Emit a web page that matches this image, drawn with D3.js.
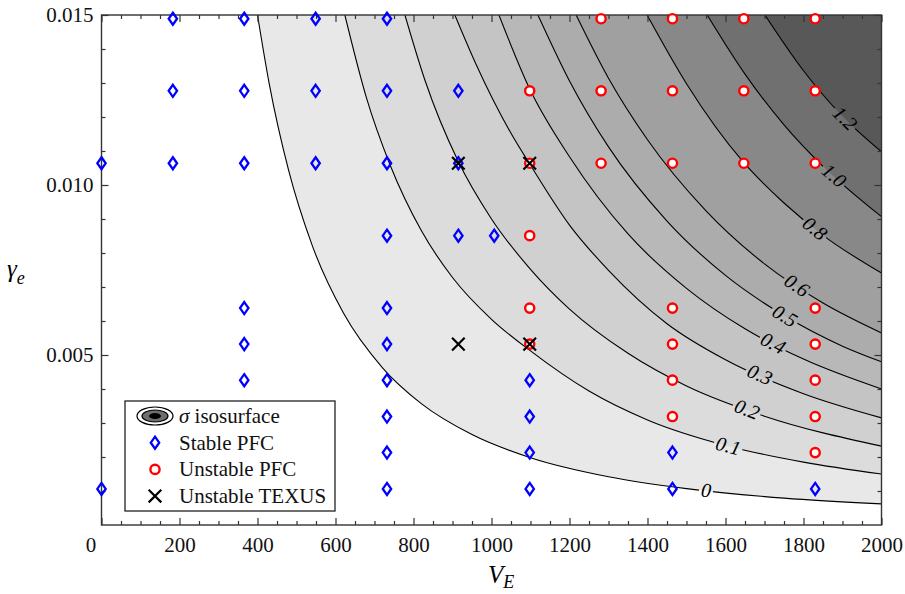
<!DOCTYPE html>
<html>
<head>
<meta charset="utf-8">
<script src="https://cdn.jsdelivr.net/npm/d3@7"></script>
<style>
  body { margin: 0; background: #ffffff; }
  svg { display: block; }
  svg text { font-family: "Liberation Serif", "Times New Roman", "DejaVu Serif", serif; }
</style>
</head>
<body>
<div id="chart"></div>
<script>
'use strict';

// -----------------------------------------------------------------------------------
// values
// -----------------------------------------------------------------------------------
var xMajorTicks = [0, 200, 400, 600, 800, 1000, 1200, 1400, 1600, 1800, 2000];
var yMajorTicks = [0.005, 0.010, 0.015];

// [V_E, gamma_e]
var stablePFC = [
  [0, 0.01064], [0, 0.00106],
  [183, 0.01489], [183, 0.01277], [183, 0.01064],
  [366, 0.01489], [366, 0.01277], [366, 0.01064], [366, 0.00638], [366, 0.00532], [366, 0.00426],
  [549, 0.01489], [549, 0.01277], [549, 0.01064],
  [732, 0.01489], [732, 0.01277], [732, 0.01064], [732, 0.00851], [732, 0.00638],
  [732, 0.00532], [732, 0.00426], [732, 0.00319], [732, 0.00213], [732, 0.00106],
  [915, 0.01277], [915, 0.01064], [915, 0.00851],
  [1007, 0.00851],
  [1098, 0.00426], [1098, 0.00319], [1098, 0.00213], [1098, 0.00106],
  [1464, 0.00213], [1464, 0.00106],
  [1830, 0.00106]
];

var unstablePFC = [
  [1098, 0.01277], [1098, 0.01064], [1098, 0.00851], [1098, 0.00638], [1098, 0.00532],
  [1281, 0.01489], [1281, 0.01277], [1281, 0.01064],
  [1464, 0.01489], [1464, 0.01277], [1464, 0.01064], [1464, 0.00638], [1464, 0.00532],
  [1464, 0.00426], [1464, 0.00319],
  [1647, 0.01489], [1647, 0.01277], [1647, 0.01064],
  [1830, 0.01489], [1830, 0.01277], [1830, 0.01064], [1830, 0.00638], [1830, 0.00532],
  [1830, 0.00426], [1830, 0.00319], [1830, 0.00213]
];

var unstableTEXUS = [
  [915, 0.01064], [1098, 0.01064], [915, 0.00532], [1098, 0.00532]
];

// sigma isosurface levels and their traced lines [V_E, gamma_e]
var contourLevels = [0, 0.1, 0.2, 0.3, 0.4, 0.5, 0.6, 0.8, 1.0, 1.2];
var contourNames = ['0', '0.1', '0.2', '0.3', '0.4', '0.5', '0.6', '0.8', '1.0', '1.2'];

var contour00 = [[400, 0.0150], [430, 0.01298], [480, 0.01042], [540, 0.00823], [620, 0.00624],
  [720, 0.00463], [820, 0.00357], [950, 0.00266], [1100, 0.00198], [1300, 0.00142],
  [1500, 0.00107], [1750, 0.00079], [2000, 0.00062]];
var contour01 = [[624, 0.0150], [680, 0.01254], [740, 0.01059], [820, 0.00866], [900, 0.00728],
  [1000, 0.00605], [1100, 0.00512], [1250, 0.00394], [1400, 0.00309], [1600, 0.00234],
  [1800, 0.00185], [2000, 0.0015]];
var contour02 = [[778, 0.0150], [830, 0.01306], [914, 0.01071], [1000, 0.0090], [1100, 0.00752],
  [1200, 0.00635], [1350, 0.00505], [1500, 0.00409], [1700, 0.0032], [2000, 0.00232]];
var contour03 = [[906, 0.0150], [960, 0.01356], [1050, 0.01152], [1100, 0.01058], [1200, 0.00882],
  [1300, 0.00749], [1450, 0.00592], [1600, 0.00486], [1800, 0.00386], [2000, 0.00315]];
var contour04 = [[1019, 0.0150], [1099, 0.0128], [1200, 0.01083], [1350, 0.00856], [1500, 0.00696],
  [1650, 0.00577], [1800, 0.00488], [2000, 0.0040]];
var contour05 = [[1119, 0.0150], [1200, 0.01306], [1300, 0.01112], [1450, 0.00894], [1600, 0.00734],
  [1750, 0.00616], [1900, 0.00526], [2000, 0.0048]];
var contour06 = [[1217, 0.0150], [1300, 0.01314], [1400, 0.01133], [1550, 0.00924], [1700, 0.00768],
  [1850, 0.00653], [2000, 0.00565]];
var contour08 = [[1399, 0.0150], [1500, 0.01298], [1646, 0.01067], [1750, 0.00947], [1850, 0.00852],
  [2000, 0.00741]];
var contour10 = [[1553, 0.0150], [1650, 0.01326], [1750, 0.01177], [1850, 0.01055], [2000, 0.00907]];
var contour12 = [[1701, 0.0150], [1800, 0.01336], [1900, 0.01202], [2000, 0.01098]];

var contourLines = [contour00, contour01, contour02, contour03, contour04,
  contour05, contour06, contour08, contour10, contour12];

// V_E where each in-line label sits
var labelAtV = [1550, 1607, 1655, 1688, 1722, 1752, 1783, 1829, 1878, 1906];

// -----------------------------------------------------------------------------------
// chart
// -----------------------------------------------------------------------------------
var W = 905, H = 594;
var pLeft = 101.5, pRight = 881.5, pTop = 15, pBottom = 525;
var serif = '"Liberation Serif", "Times New Roman", "DejaVu Serif", serif';

var x = d3.scaleLinear().domain([0, 2000]).range([pLeft, pRight]);
var y = d3.scaleLinear().domain([0, 0.015]).range([pBottom, pTop]);
var gray = d3.scaleLinear().domain([0, 1.2]).range(['#e8e8e8', '#585858']);

var svg = d3.select('#chart').append('svg')
  .attr('width', W)
  .attr('height', H);

svg.append('rect')
  .attr('width', W)
  .attr('height', H)
  .style('fill', '#ffffff');

var defs = svg.append('defs');
defs.append('clipPath').attr('id', 'plotclip')
  .append('rect')
  .attr('x', pLeft)
  .attr('y', pTop)
  .attr('width', pRight - pLeft)
  .attr('height', pBottom - pTop);

var line = d3.line()
  .x(function(d) { return x(d[0]); })
  .y(function(d) { return y(d[1]); })
  .curve(d3.curveMonotoneX);

// filled bands: each level paints everything above/right of its line
var bands = svg.append('g').attr('clip-path', 'url(#plotclip)');
contourLines.forEach(function(pts, i) {
  bands.append('path')
    .attr('d', line(pts) + 'L' + x(2000) + ',' + y(0.015) + 'Z')
    .style('fill', gray(contourLevels[i]))
    .style('stroke', 'none');
});

// position along a traced line
function along(pts, v) {
  for (var k = 0; k < pts.length - 1; k++) {
    if (v >= pts[k][0] && v <= pts[k + 1][0]) {
      var t = (v - pts[k][0]) / (pts[k + 1][0] - pts[k][0]);
      return pts[k][1] + t * (pts[k + 1][1] - pts[k][1]);
    }
  }
  return pts[pts.length - 1][1];
}

// contour labels
var labelG = svg.append('g')
  .style('font-family', serif)
  .style('font-size', '20px')
  .style('font-style', 'italic');

var mask = defs.append('mask').attr('id', 'lblmask')
  .attr('maskUnits', 'userSpaceOnUse')
  .attr('x', 0).attr('y', 0).attr('width', W).attr('height', H);
mask.append('rect').attr('width', W).attr('height', H).style('fill', '#ffffff');

contourLines.forEach(function(pts, i) {
  var v = labelAtV[i];
  var px = x(v), py = y(along(pts, v));
  var dx = x(v + 25) - x(v - 25);
  var dy = y(along(pts, v + 25)) - y(along(pts, v - 25));
  var ang = Math.atan2(dy, dx) * 180 / Math.PI;

  var t = labelG.append('text')
    .attr('transform', 'translate(' + px + ',' + py + ') rotate(' + ang + ')')
    .attr('text-anchor', 'middle')
    .attr('dy', '0.33em')
    .text(contourNames[i]);
  var tw = t.node().getComputedTextLength() + 4;

  mask.append('rect')
    .attr('x', -tw / 2)
    .attr('y', -7)
    .attr('width', tw)
    .attr('height', 14)
    .attr('transform', 'translate(' + px + ',' + py + ') rotate(' + ang + ')')
    .style('fill', '#000000');
});

// contour lines, broken where the labels sit
var linesG = svg.append('g').attr('clip-path', 'url(#plotclip)')
  .append('g').attr('mask', 'url(#lblmask)');
contourLines.forEach(function(pts) {
  linesG.append('path')
    .attr('d', line(pts))
    .style('fill', 'none')
    .style('stroke', '#000000')
    .style('stroke-width', '1.1px');
});

// -----------------------------------------------------------------------------------
// axes (ticks point inward on all four sides)
// -----------------------------------------------------------------------------------
var xMinor = d3.range(0, 2001, 50).filter(function(v) { return v % 200 !== 0; });
var yMinor = d3.range(1, 15).map(function(k) { return k / 1000; })
  .filter(function(v, k) { return (k + 1) % 5 !== 0; });

function styleAxis(g) {
  g.attr('font-family', null);
  g.select('.domain').remove();
  g.selectAll('line').style('stroke', '#333333').style('stroke-width', '1.2px');
  g.selectAll('text')
    .style('font-family', serif)
    .style('font-size', '21px')
    .style('fill', '#111111');
}

var xAxisB = svg.append('g').attr('transform', 'translate(0,' + pBottom + ')')
  .call(d3.axisBottom(x).tickValues(xMajorTicks).tickSize(-7).tickPadding(12)
    .tickFormat(d3.format('d')));
styleAxis(xAxisB);
xAxisB.selectAll('.tick text').filter(function(d) { return d === 0; }).attr('dx', '-11');

svg.append('g').attr('transform', 'translate(0,' + pBottom + ')')
  .call(d3.axisBottom(x).tickValues(xMinor).tickSize(-4).tickFormat(''))
  .call(styleAxis);
svg.append('g').attr('transform', 'translate(0,' + pTop + ')')
  .call(d3.axisTop(x).tickValues(xMajorTicks).tickSize(-7).tickFormat(''))
  .call(styleAxis);
svg.append('g').attr('transform', 'translate(0,' + pTop + ')')
  .call(d3.axisTop(x).tickValues(xMinor).tickSize(-4).tickFormat(''))
  .call(styleAxis);

svg.append('g').attr('transform', 'translate(' + pLeft + ',0)')
  .call(d3.axisLeft(y).tickValues(yMajorTicks).tickSize(-7).tickPadding(8)
    .tickFormat(d3.format('.3f')))
  .call(styleAxis);
svg.append('g').attr('transform', 'translate(' + pLeft + ',0)')
  .call(d3.axisLeft(y).tickValues(yMinor).tickSize(-4).tickFormat(''))
  .call(styleAxis);
svg.append('g').attr('transform', 'translate(' + pRight + ',0)')
  .call(d3.axisRight(y).tickValues(yMajorTicks).tickSize(-7).tickFormat(''))
  .call(styleAxis);
svg.append('g').attr('transform', 'translate(' + pRight + ',0)')
  .call(d3.axisRight(y).tickValues(yMinor).tickSize(-4).tickFormat(''))
  .call(styleAxis);

// frame
svg.append('rect')
  .attr('x', pLeft)
  .attr('y', pTop)
  .attr('width', pRight - pLeft)
  .attr('height', pBottom - pTop)
  .style('fill', 'none')
  .style('stroke', '#333333')
  .style('stroke-width', '1.4px');

// axis titles
var yTitle = svg.append('text')
  .attr('x', 7)
  .attr('y', 277)
  .style('font-family', serif)
  .style('font-size', '25px')
  .style('font-style', 'italic');
yTitle.append('tspan').text('\u03b3');
yTitle.append('tspan').attr('dy', 7).style('font-size', '18px').text('e');

var xTitle = svg.append('text')
  .attr('x', 488)
  .attr('y', 583)
  .style('font-family', serif)
  .style('font-size', '25px')
  .style('font-style', 'italic');
xTitle.append('tspan').text('V');
xTitle.append('tspan').attr('dy', 5).style('font-size', '18px').text('E');

// -----------------------------------------------------------------------------------
// markers
// -----------------------------------------------------------------------------------
var diamondPath = 'M0,-6L4.2,0L0,6L-4.2,0Z';

function drawDiamond(g, px, py) {
  g.append('path')
    .attr('d', diamondPath)
    .attr('transform', 'translate(' + px + ',' + py + ')')
    .style('fill', 'none')
    .style('stroke', '#0000ff')
    .style('stroke-width', '2.3px');
}
function drawCircle(g, px, py) {
  g.append('circle')
    .attr('cx', px)
    .attr('cy', py)
    .attr('r', 4.6)
    .style('fill', '#ffffff')
    .style('stroke', '#ff0000')
    .style('stroke-width', '2.4px');
}
function drawCross(g, px, py) {
  g.append('path')
    .attr('d', 'M-6.3,-6.3L6.3,6.3M-6.3,6.3L6.3,-6.3')
    .attr('transform', 'translate(' + px + ',' + py + ')')
    .style('fill', 'none')
    .style('stroke', '#000000')
    .style('stroke-width', '2.2px');
}

var marks = svg.append('g');
stablePFC.forEach(function(d) { drawDiamond(marks, x(d[0]), y(d[1])); });
unstablePFC.forEach(function(d) { drawCircle(marks, x(d[0]), y(d[1])); });
unstableTEXUS.forEach(function(d) { drawCross(marks, x(d[0]), y(d[1])); });

// -----------------------------------------------------------------------------------
// legend
// -----------------------------------------------------------------------------------
var legend = svg.append('g');
legend.append('rect')
  .attr('x', 125)
  .attr('y', 401)
  .attr('width', 210)
  .attr('height', 110)
  .style('fill', '#ffffff')
  .style('stroke', '#222222')
  .style('stroke-width', '1.3px');

var symX = 155, txtX = 179, row0 = 416, rowStep = 26.7;

// isosurface icon: nested ellipses
legend.append('ellipse').attr('cx', symX).attr('cy', row0).attr('rx', 18).attr('ry', 9)
  .style('fill', '#ffffff').style('stroke', '#000000').style('stroke-width', '1.2px');
legend.append('ellipse').attr('cx', symX).attr('cy', row0).attr('rx', 13).attr('ry', 6)
  .style('fill', '#6e6e6e').style('stroke', '#000000').style('stroke-width', '1.2px');
legend.append('ellipse').attr('cx', symX).attr('cy', row0).attr('rx', 6).attr('ry', 3)
  .style('fill', '#000000');

drawDiamond(legend, symX, row0 + rowStep);
drawCircle(legend, symX, row0 + 2 * rowStep);
drawCross(legend, symX, row0 + 3 * rowStep);

var legendText = legend.append('g')
  .style('font-family', serif)
  .style('font-size', '21px')
  .style('fill', '#111111');
var t0 = legendText.append('text').attr('x', txtX).attr('y', row0).attr('dy', '0.33em');
t0.append('tspan').style('font-style', 'italic').text('\u03c3');
t0.append('tspan').text(' isosurface');
['Stable PFC', 'Unstable PFC', 'Unstable TEXUS'].forEach(function(s, k) {
  legendText.append('text')
    .attr('x', txtX)
    .attr('y', row0 + (k + 1) * rowStep)
    .attr('dy', '0.33em')
    .text(s);
});
</script>
</body>
</html>
